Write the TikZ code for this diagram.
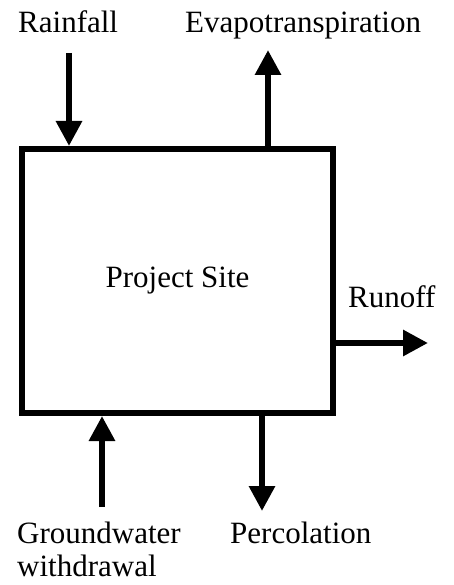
\documentclass[tikz,border=0pt]{standalone}
\usepackage{fontspec}
\setmainfont{Liberation Serif}
\usepackage{tikz}
\usetikzlibrary{arrows.meta,positioning}

\begin{document}
\begin{tikzpicture}[x=1pt,y=-1pt,
  flow/.style={-{Triangle[width=25pt,length=25pt]},line width=6pt},
  lbl/.style={font=\fontsize{31}{33.4}\selectfont,inner sep=0pt,anchor=base west,align=left}]
\useasboundingbox (0,0) rectangle (453,585);
\tikzstyle{site box}=[draw=black,line width=6pt,minimum width=311pt,minimum height=264pt,font=\fontsize{31}{34}\selectfont]
\node[site box] (site) at (177.5,281) {Project Site};

% labels (two-line label sits on its last baseline)
\node[lbl] (rain) at (18,33) {Rainfall};
\node[lbl] (et) at (185,33) {Evapotranspiration};
\node[lbl] (runoff) at (348,307) {Runoff};
\node[lbl] (gw) at (17,576.7) {Groundwater\\withdrawal};
\node[lbl] (perc) at (230,543) {Percolation};

% free ends of the flows
\coordinate (rainin) at (69,53);
\coordinate (etout) at (268,50);
\coordinate (runout) at (428,343);
\coordinate (gwin) at (102,507);
\coordinate (percout) at (262,511);

\draw[flow] (rainin) -- (rainin |- site.north);
\draw[flow] (etout |- site.north) -- (etout);
\draw[flow] (runout -| site.east) -- (runout);
\draw[flow] (gwin) -- (gwin |- site.south);
\draw[flow] (percout |- site.south) -- (percout);
\end{tikzpicture}
\end{document}
